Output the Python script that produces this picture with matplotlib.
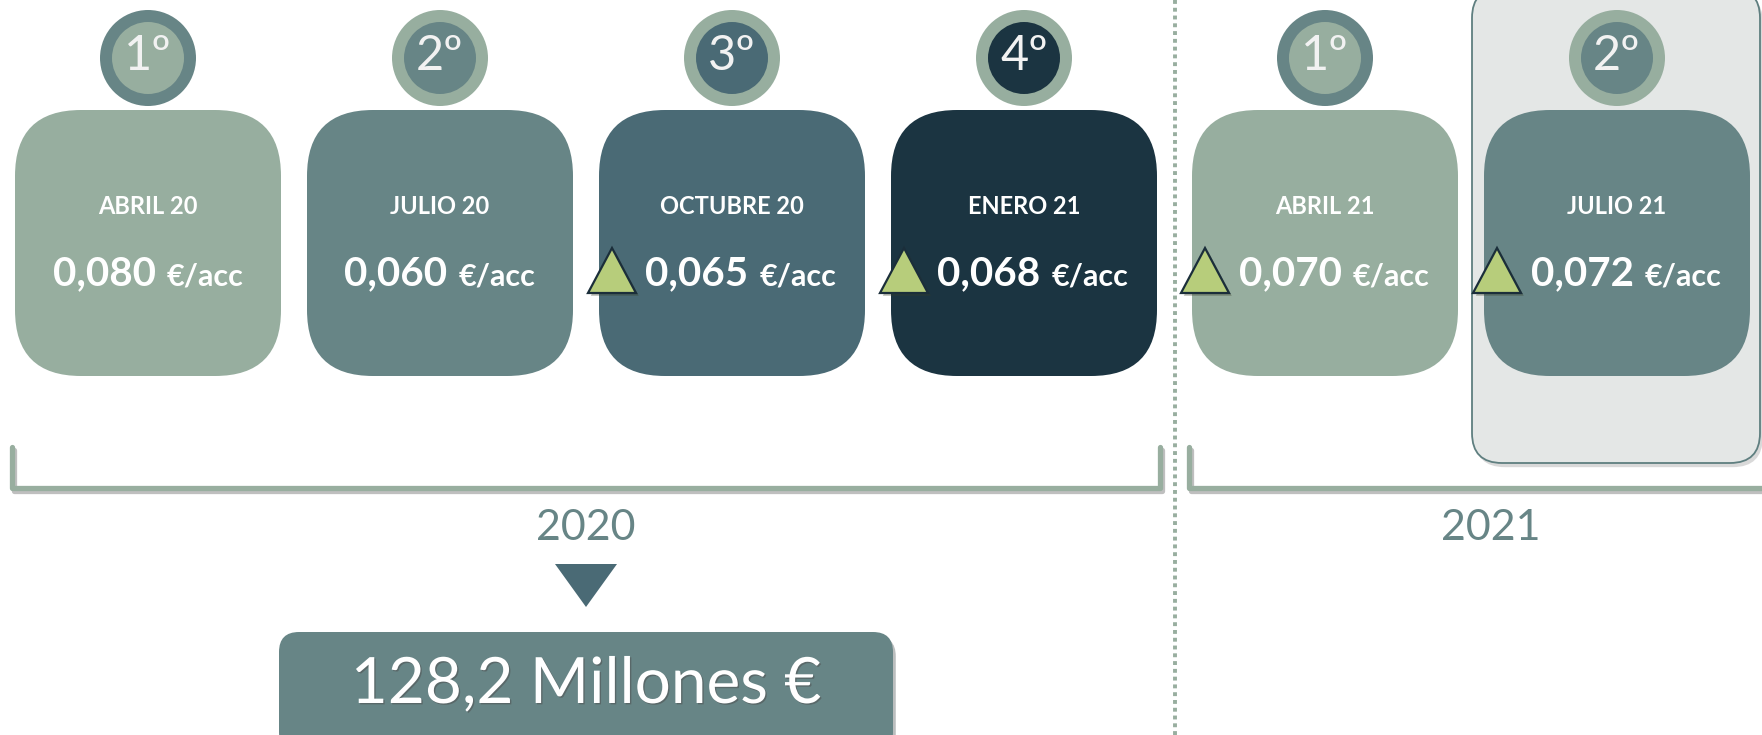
import numpy as np
import matplotlib.pyplot as plt
import matplotlib.patheffects as pe
from matplotlib.patches import FancyBboxPatch, Circle, Polygon
from matplotlib.offsetbox import TextArea, HPacker, AnnotationBbox

# dividend payments shown on the timeline
periods = ["ABRIL 20", "JULIO 20", "OCTUBRE 20", "ENERO 21", "ABRIL 21", "JULIO 21"]
dividends = [0.080, 0.060, 0.065, 0.068, 0.070, 0.072]
payment_no = ["1º", "2º", "3º", "4º", "1º", "2º"]
fiscal_year = [2020, 2020, 2020, 2020, 2021, 2021]
years = [2020, 2021]
total_2020 = 128.2
unit = "€/acc"

SAGE = "#97ae9f"
TEAL = "#678586"
SLATE = "#4a6a75"
NAVY = "#1b3441"
box_colors = [SAGE, TEAL, SLATE, NAVY, SAGE, TEAL]
ring_colors = [TEAL, SAGE, SAGE, SAGE, TEAL, SAGE]

plt.rcParams['font.family'] = ['Lato', 'DejaVu Sans']

W, H = 1762, 735
fig = plt.figure(figsize=(W / 100, H / 100), dpi=100)
ax = fig.add_axes([0, 0, 1, 1])
ax.set_xlim(0, W)
ax.set_ylim(H, 0)
ax.axis('off')

# layout (pixels)
x0, step, year_gap = 148, 292, 9
box_w, box_top, box_h = 266, 110, 266
br_top, br_bot = 447, 488

centers = [x0 + step * i + year_gap * years.index(fy) for i, fy in enumerate(fiscal_year)]

# highlight behind the latest payment
cl = centers[-1]
hl = FancyBboxPatch((cl - 145, -12), W - 2 - (cl - 145), 475,
                    boxstyle="round,pad=0,rounding_size=30",
                    fc="#e4e7e6", ec="#5f7f80", lw=1.3, zorder=1,
                    path_effects=[pe.withSimplePatchShadow(offset=(2, -3), alpha=0.2)])
ax.add_patch(hl)

for i, cx in enumerate(centers):
    # ordinal circle
    ax.add_patch(Circle((cx, 58), 48, fc=ring_colors[i], ec='none', zorder=3))
    ax.add_patch(Circle((cx, 58), 36, fc=box_colors[i], ec='none', zorder=4))
    ax.text(cx, 56, payment_no[i], ha='center', va='center', fontsize=35,
            fontweight='normal', color='#f2f2f2', zorder=5)

    # rounded box
    ax.add_patch(FancyBboxPatch((cx - box_w / 2, box_top), box_w, box_h,
                                boxstyle="round,pad=0,rounding_size=66",
                                fc=box_colors[i], ec='none', zorder=3))
    ax.text(cx, 206, periods[i], ha='center', va='center', fontsize=17,
            fontweight='bold', color='white', zorder=5)

    up = i > 0 and dividends[i] > dividends[i - 1]
    num = TextArea(f"{dividends[i]:.3f}".replace('.', ','),
                   textprops=dict(fontsize=29, fontweight='bold', color='white'))
    un = TextArea(unit, textprops=dict(fontsize=22, fontweight='bold', color='white'))
    pack = HPacker(children=[num, un], align="baseline", pad=0, sep=8)
    shift = 9 if up else 0
    ab = AnnotationBbox(pack, (cx + shift, 274), frameon=False,
                        box_alignment=(0.5, 0.5), zorder=6)
    ax.add_artist(ab)

    if up:
        tx = cx - 120
        tri = Polygon([(tx - 24, 293), (tx + 24, 293), (tx, 248)], closed=True,
                      fc="#b7cd7b", ec="#1b2e3a", lw=1.6, joinstyle='miter', zorder=7,
                      path_effects=[pe.withSimplePatchShadow(offset=(2, -2), alpha=0.35)])
        ax.add_patch(tri)

# brackets and year labels
for k, yr in enumerate(years):
    idx = [i for i, fy in enumerate(fiscal_year) if fy == yr]
    left = centers[idx[0]] - 136
    right = centers[idx[-1]] + 136 if k < len(years) - 1 else W + 30
    ax.plot([left, left, right, right], [br_top, br_bot, br_bot, br_top],
            color="#98ae9f", lw=3.8, solid_joinstyle='round', solid_capstyle='round',
            zorder=2,
            path_effects=[pe.SimpleLineShadow(offset=(1.5, -2.5), alpha=0.25), pe.Normal()])
    ax.text((left + right) / 2, 528, str(yr), ha='center', va='center',
            fontsize=31, fontweight='normal', color=TEAL, zorder=5)

    if k < len(years) - 1:
        sep_x = (centers[idx[-1]] + centers[idx[-1] + 1]) / 2
        ax.plot([sep_x, sep_x], [0, H], color="#98ae9f", lw=2.8,
                linestyle=(0, (1.0, 1.0)), zorder=1)

# total for the completed year
mx = (centers[0] - 136 + centers[3] + 136) / 2
ax.add_patch(Polygon([(mx - 31, 564), (mx + 31, 564), (mx, 607)], closed=True,
                     fc=SLATE, ec='none', zorder=3))
ax.add_patch(FancyBboxPatch((mx - 307, 632), 614, 120,
                            boxstyle="round,pad=0,rounding_size=20",
                            fc=TEAL, ec='none', zorder=3,
                            path_effects=[pe.withSimplePatchShadow(offset=(2, -3), alpha=0.3)]))
ax.text(mx, 685, f"{total_2020:.1f}".replace('.', ',') + " Millones €",
        ha='center', va='center', fontsize=46, fontweight='normal', color='white',
        zorder=5, path_effects=[pe.withSimplePatchShadow(offset=(1, -1), alpha=0.5)])

fig.savefig("out.png", dpi=100)
